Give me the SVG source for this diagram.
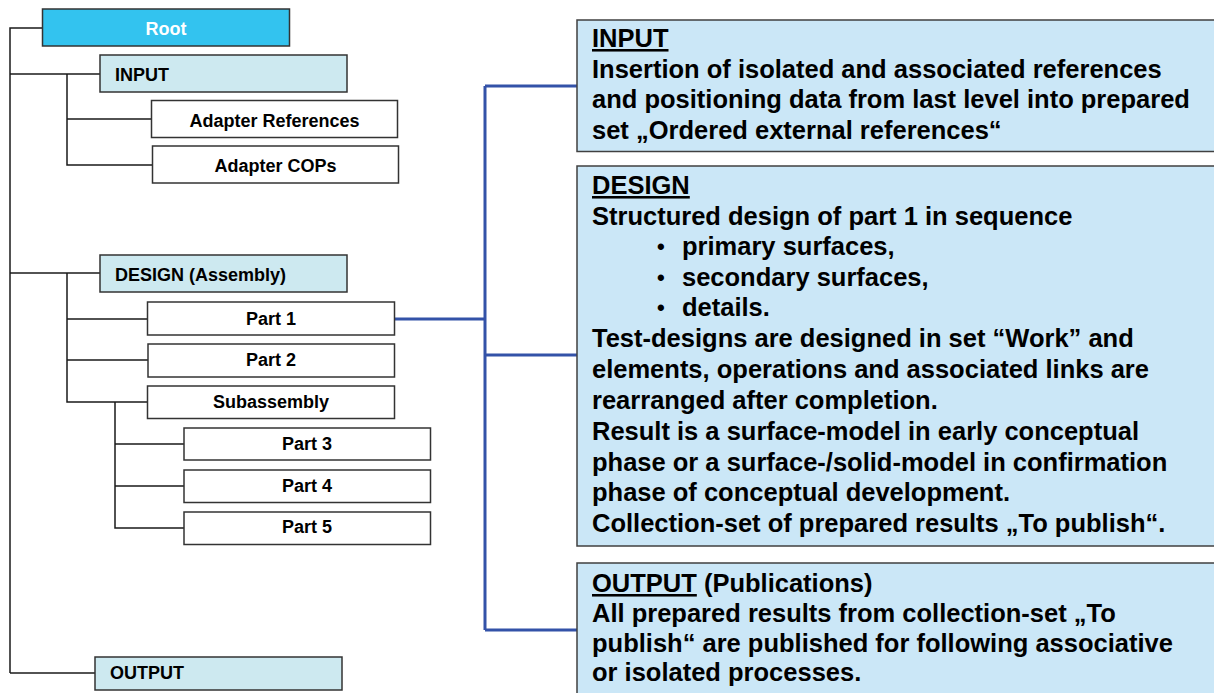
<svg xmlns="http://www.w3.org/2000/svg" width="1214" height="693" viewBox="0 0 1214 693">
  <style>
    .tree { fill: none; stroke: #1a1a1a; stroke-width: 1.5; }
    .link { fill: none; stroke: #3352a8; stroke-width: 3; }
    .box { fill: #ffffff; stroke: #333333; stroke-width: 1.5; }
    .lbox { fill: #cde9f0; stroke: #333333; stroke-width: 1.5; }
    .root { fill: #33c3ef; stroke: #333333; stroke-width: 1.5; }
    .note { fill: #cbe7f7; stroke: #404040; stroke-width: 1.5; }
    .lbl { font-family: "Liberation Sans", Arial, sans-serif; font-weight: bold; font-size: 18px; fill: #000; }
    .mid { text-anchor: middle; }
    .txt { font-family: "Liberation Sans", Arial, sans-serif; font-weight: bold; font-size: 25.5px; fill: #000; }
    .dot { font-family: "Liberation Sans", Arial, sans-serif; font-weight: bold; font-size: 22px; fill: #000; }
    .u { text-decoration: underline; }
  </style>

  <!-- tree connectors and the blue description link -->
  <g id="connectors">
    <path class="tree" d="M10,673 V28 H42"/>
    <path class="tree" d="M10,74 H100"/>
    <path class="tree" d="M10,273 H100"/>
    <path class="tree" d="M10,673 H95"/>
    <path class="tree" d="M67,74 V165 H152 M67,119 H151"/>
    <path class="tree" d="M67,273 V402 H147 M67,319 H147 M67,360 H148"/>
    <path class="tree" d="M115,402 V528 H184 M115,444 H184 M115,486 H184"/>
    <path class="link" d="M394,319 H485 M485,86 V630 M485,86 H577 M485,355 H577 M485,630 H577"/>
  </g>

  <g id="root">
    <rect class="root" x="42.5" y="9" width="247" height="37"/>
    <text class="lbl mid" x="166" y="35" style="fill:#ffffff">Root</text>
  </g>

  <g id="input">
    <rect class="lbox" x="100" y="55" width="247" height="37"/>
    <text class="lbl" x="115" y="81">INPUT</text>
  </g>
  <g id="adapter-references">
    <rect class="box" x="151.5" y="100.5" width="246" height="37"/>
    <text class="lbl mid" x="274.5" y="127">Adapter References</text>
  </g>
  <g id="adapter-cops">
    <rect class="box" x="152.5" y="146" width="246" height="37"/>
    <text class="lbl mid" x="275.5" y="172">Adapter COPs</text>
  </g>

  <g id="design">
    <rect class="lbox" x="100" y="255" width="247" height="37"/>
    <text class="lbl" x="115" y="281">DESIGN (Assembly)</text>
  </g>
  <g id="part1">
    <rect class="box" x="147.5" y="302" width="247" height="33"/>
    <text class="lbl mid" x="271" y="324.5">Part 1</text>
  </g>
  <g id="part2">
    <rect class="box" x="148" y="344" width="246.5" height="33"/>
    <text class="lbl mid" x="271" y="366">Part 2</text>
  </g>
  <g id="subassembly">
    <rect class="box" x="147.5" y="386" width="247" height="32.5"/>
    <text class="lbl mid" x="271" y="408">Subassembly</text>
  </g>
  <g id="part3">
    <rect class="box" x="184" y="428" width="246.5" height="32"/>
    <text class="lbl mid" x="307" y="450">Part 3</text>
  </g>
  <g id="part4">
    <rect class="box" x="184" y="470" width="246.5" height="32.5"/>
    <text class="lbl mid" x="307" y="492">Part 4</text>
  </g>
  <g id="part5">
    <rect class="box" x="184" y="512" width="246.5" height="32.5"/>
    <text class="lbl mid" x="307" y="533">Part 5</text>
  </g>

  <g id="output">
    <rect class="lbox" x="95" y="657" width="247" height="33"/>
    <text class="lbl" x="110" y="679">OUTPUT</text>
  </g>

  <!-- description panels -->
  <g id="input-notes">
    <rect class="note" x="577" y="20" width="640" height="131.5"/>
    <text class="txt" x="592" y="47"><tspan class="u">INPUT</tspan></text>
    <text class="txt" x="592" y="77.5">Insertion of isolated and associated references</text>
    <text class="txt" x="592" y="108">and positioning data from last level into prepared</text>
    <text class="txt" x="592" y="138.5">set „Ordered external references“</text>
  </g>

  <g id="design-notes">
    <rect class="note" x="577" y="166" width="640" height="380"/>
    <text class="txt" x="592" y="194"><tspan class="u">DESIGN</tspan></text>
    <text class="txt" x="592" y="224.5">Structured design of part 1 in sequence</text>
    <text class="dot" x="657" y="254">•</text>
    <text class="txt" x="682" y="255">primary surfaces,</text>
    <text class="dot" x="657" y="284.5">•</text>
    <text class="txt" x="682" y="285.5">secondary surfaces,</text>
    <text class="dot" x="657" y="315">•</text>
    <text class="txt" x="682" y="316">details.</text>
    <text class="txt" x="592" y="347">Test-designs are designed in set “Work” and</text>
    <text class="txt" x="592" y="377.5">elements, operations and associated links are</text>
    <text class="txt" x="592" y="408.5">rearranged after completion.</text>
    <text class="txt" x="592" y="439.5">Result is a surface-model in early conceptual</text>
    <text class="txt" x="592" y="470.5">phase or a surface-/solid-model in confirmation</text>
    <text class="txt" x="592" y="501">phase of conceptual development.</text>
    <text class="txt" x="592" y="532">Collection-set of prepared results „To publish“.</text>
  </g>

  <g id="output-notes">
    <rect class="note" x="577" y="563" width="640" height="140"/>
    <text class="txt" x="592" y="592"><tspan class="u">OUTPUT</tspan> (Publications)</text>
    <text class="txt" x="592" y="622">All prepared results from collection-set „To</text>
    <text class="txt" x="592" y="652">publish“ are published for following associative</text>
    <text class="txt" x="592" y="681">or isolated processes.</text>
  </g>
</svg>
